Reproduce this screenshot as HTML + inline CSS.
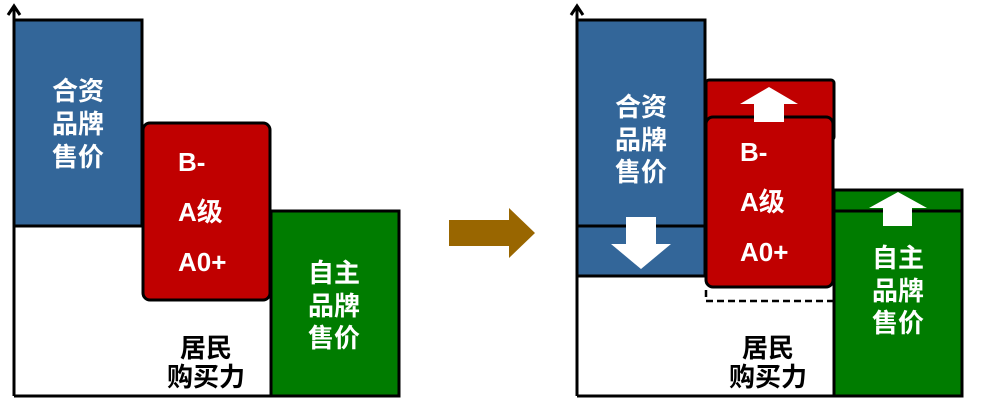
<!DOCTYPE html>
<html><head><meta charset="utf-8"><style>
body{margin:0;background:#fff}
svg{display:block}
text{font-family:"Liberation Sans","Noto Sans CJK SC",sans-serif;font-weight:bold;font-size:26px}
.w{fill:#fff}.k{fill:#000}
</style></head><body>
<svg width="981" height="403" viewBox="0 0 981 403" xmlns="http://www.w3.org/2000/svg">
<!-- LEFT -->
<rect x="14" y="20" width="128" height="206" fill="#336699" stroke="#000" stroke-width="3"/>
<rect x="271" y="211" width="128" height="185" fill="#007c00" stroke="#000" stroke-width="3"/>
<rect x="143" y="123" width="127" height="177" rx="7" fill="#c00000" stroke="#000" stroke-width="3"/>
<line x1="14" y1="396" x2="399" y2="396" stroke="#000" stroke-width="3"/>
<line x1="14" y1="396" x2="14" y2="6" stroke="#000" stroke-width="3"/>
<polyline points="8,15 14,6 20,15" fill="none" stroke="#000" stroke-width="3"/>
<g text-anchor="middle">
<text class="w" x="78" y="100">合资</text>
<text class="w" x="78" y="133">品牌</text>
<text class="w" x="78" y="166">售价</text>
<text class="w" x="334" y="282">自主</text>
<text class="w" x="334" y="315">品牌</text>
<text class="w" x="334" y="347">售价</text>
<text class="k" x="206" y="357">居民</text>
<text class="k" x="206" y="386">购买力</text>
</g>
<text class="w" x="178" y="171">B-</text>
<text class="w" x="178" y="221">A级</text>
<text class="w" x="178" y="271">A0+</text>
<!-- middle arrow -->
<polygon points="449,220 509,220 509,208 535,233 509,258 509,246 449,246" fill="#996600"/>
<!-- RIGHT -->
<rect x="577" y="20" width="128" height="256" fill="#336699" stroke="#000" stroke-width="3"/>
<line x1="577" y1="226" x2="705" y2="226" stroke="#000" stroke-width="3"/>
<polygon points="626,217 656,217 656,244 671,244 641,269 611,244 626,244" fill="#fff"/>
<rect x="834" y="190" width="128" height="206" fill="#007c00" stroke="#000" stroke-width="3"/>
<line x1="834" y1="211" x2="962" y2="211" stroke="#000" stroke-width="3"/>
<polygon points="898,192 927,208 912,208 912,226 883,226 883,208 869,208" fill="#fff"/>
<rect x="706" y="80" width="128" height="60" rx="3" fill="#c00000" stroke="#000" stroke-width="3"/>
<rect x="706" y="117" width="127" height="170" rx="7" fill="#c00000" stroke="#000" stroke-width="3"/>
<polygon points="769,87 798,104 784,104 784,122 754,122 754,104 740,104" fill="#fff"/>
<polyline points="706,290 706,301 833,301" fill="none" stroke="#000" stroke-width="2.5" stroke-dasharray="7,4"/>
<line x1="577" y1="396" x2="962" y2="396" stroke="#000" stroke-width="3"/>
<line x1="577" y1="396" x2="577" y2="6" stroke="#000" stroke-width="3"/>
<polyline points="571,15 577,6 583,15" fill="none" stroke="#000" stroke-width="3"/>
<g text-anchor="middle">
<text class="w" x="641" y="116">合资</text>
<text class="w" x="641" y="149">品牌</text>
<text class="w" x="641" y="181">售价</text>
<text class="w" x="898" y="267">自主</text>
<text class="w" x="898" y="300">品牌</text>
<text class="w" x="898" y="332">售价</text>
<text class="k" x="768" y="357">居民</text>
<text class="k" x="768" y="386">购买力</text>
</g>
<text class="w" x="740" y="161">B-</text>
<text class="w" x="740" y="211">A级</text>
<text class="w" x="740" y="261">A0+</text>
</svg>
</body></html>
